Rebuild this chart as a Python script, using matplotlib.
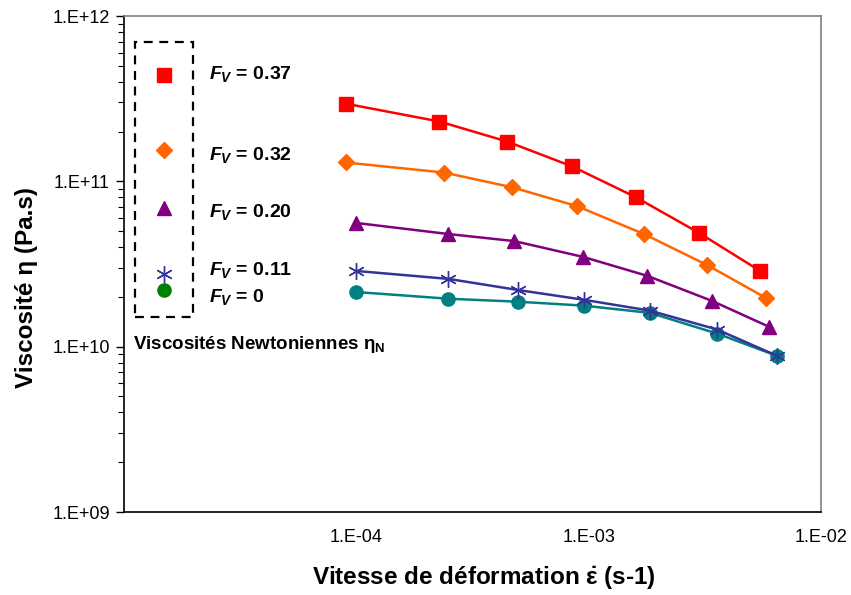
import matplotlib.pyplot as plt
import numpy as np
from matplotlib.patches import Rectangle
from matplotlib.ticker import FixedLocator, LogLocator, NullFormatter

plt.rcParams["font.family"] = ["Liberation Sans", "DejaVu Sans"]
plt.rcParams["mathtext.fontset"] = "custom"
plt.rcParams["mathtext.rm"] = "Liberation Sans:bold"
plt.rcParams["mathtext.it"] = "Liberation Sans:italic:bold"
plt.rcParams["mathtext.bf"] = "Liberation Sans:bold"

# strain rate (s-1) and viscosity (Pa.s) for each volume fraction
x_037 = [9.0e-5, 2.28e-4, 4.46e-4, 8.5e-4, 1.60e-3, 2.99e-3, 5.47e-3]
y_037 = [2.95e11, 2.30e11, 1.74e11, 1.23e11, 8.0e10, 4.87e10, 2.87e10]

x_032 = [9.0e-5, 2.39e-4, 4.69e-4, 8.93e-4, 1.73e-3, 3.23e-3, 5.80e-3]
y_032 = [1.30e11, 1.13e11, 9.2e10, 7.07e10, 4.8e10, 3.12e10, 1.97e10]

x_020 = [1.0e-4, 2.49e-4, 4.79e-4, 9.47e-4, 1.79e-3, 3.40e-3, 5.97e-3]
y_020 = [5.6e10, 4.8e10, 4.35e10, 3.49e10, 2.68e10, 1.89e10, 1.32e10]

x_011 = [1.0e-4, 2.49e-4, 4.98e-4, 9.57e-4, 1.84e-3, 3.57e-3, 6.47e-3]
y_011 = [2.87e10, 2.57e10, 2.20e10, 1.92e10, 1.65e10, 1.27e10, 8.8e9]

x_0 = [1.0e-4, 2.49e-4, 4.98e-4, 9.57e-4, 1.84e-3, 3.57e-3, 6.47e-3]
y_0 = [2.14e10, 1.95e10, 1.87e10, 1.77e10, 1.60e10, 1.20e10, 8.8e9]

x_ticks = [1e-4, 1e-3, 1e-2]
x_labels = ["1.E-04", "1.E-03", "1.E-02"]
y_ticks = [1e9, 1e10, 1e11, 1e12]
y_labels = ["1.E+09", "1.E+10", "1.E+11", "1.E+12"]

legend_labels = ["0.37", "0.32", "0.20", "0.11", "0"]

fig = plt.figure(figsize=(8.51, 5.95), dpi=100)
ax = fig.add_axes([124 / 851, 83 / 595, 697 / 851, 496 / 595])

lw = 1.8
ax.plot(x_037, y_037, color="#FF0000", lw=lw, marker="s", ms=10.5, zorder=3)
ax.plot(x_032, y_032, color="#FF6600", lw=lw, marker="D", ms=8, zorder=3)
ax.plot(x_020, y_020, color="#800080", lw=lw, marker="^", ms=10, zorder=3)
ax.plot(x_0, y_0, color="#008080", lw=lw, marker="o", ms=9.5, zorder=3)
ax.plot(x_011, y_011, color="#333399", lw=lw, marker=(6, 2, 0), ms=12,
        mew=1.0, zorder=4)

ax.set_xscale("log")
ax.set_yscale("log")
ax.set_xlim(1e-5, 1e-2)
ax.set_ylim(1e9, 1e12)

ax.xaxis.set_major_locator(FixedLocator(x_ticks))
ax.set_xticklabels(x_labels)
ax.xaxis.set_minor_locator(FixedLocator([]))
ax.tick_params(axis="x", which="both", length=0, pad=12, labelsize=13)

ax.yaxis.set_major_locator(FixedLocator(y_ticks))
ax.set_yticklabels(y_labels)
ax.yaxis.set_minor_locator(LogLocator(base=10, subs=np.arange(2, 10)))
ax.yaxis.set_minor_formatter(NullFormatter())
ax.tick_params(axis="y", which="major", length=6, width=1, direction="out",
               labelsize=13, pad=4)
ax.tick_params(axis="y", which="minor", length=4, width=0.8, direction="out")

for side in ["top", "right"]:
    ax.spines[side].set_color("#808080")
for side in ["left", "bottom"]:
    ax.spines[side].set_color("black")
for sp in ax.spines.values():
    sp.set_linewidth(1.2)

ax.set_ylabel("Viscosité η (Pa.s)", fontsize=17.5, fontweight="bold")
ax.yaxis.set_label_coords(-0.124, 0.452)
ax.set_xlabel("Vitesse de déformation $\\dot{\\mathrm{\\varepsilon}}$ (s-1)",
              fontsize=17.5, fontweight="bold")
ax.xaxis.set_label_coords(0.5165, -0.133)
ax.xaxis.label.set_va("center")

# hand-made legend inside dashed box
ax.add_patch(Rectangle((0.0158, 0.393), 0.083, 0.555, transform=ax.transAxes,
                       fill=False, ls=(0, (4, 3)), lw=1.6, ec="black", zorder=5))
leg_markers = [("s", "#FF0000", 10.5), ("D", "#FF6600", 8), ("^", "#800080", 10),
               ((6, 2, 0), "#333399", 12), ("o", "#008000", 9.5)]
marker_y = [0.881, 0.730, 0.613, 0.480, 0.448]
text_y = [0.883, 0.720, 0.605, 0.488, 0.433]
for (m, c, s), my, ty, lab in zip(leg_markers, marker_y, text_y, legend_labels):
    ax.plot([0.0574], [my], marker=m, color=c, ms=s, mew=1.0,
            transform=ax.transAxes, clip_on=False, zorder=6)
    ax.text(0.122, ty, "$F_V$ = " + lab, transform=ax.transAxes, fontsize=14,
            fontweight="bold", va="center", ha="left")

ax.text(0.013, 0.337, "Viscosités Newtoniennes η$_\\mathrm{N}$",
        transform=ax.transAxes, fontsize=13.5, fontweight="bold",
        va="center", ha="left")

plt.savefig("out.png", dpi=100)
